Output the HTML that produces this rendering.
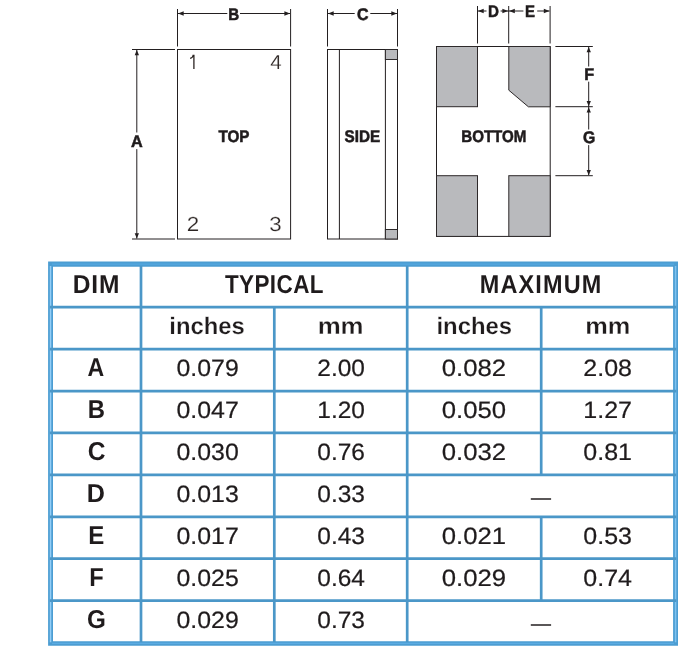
<!DOCTYPE html>
<html>
<head>
<meta charset="utf-8">
<title>Package Dimensions</title>
<style>
  html, body { margin: 0; padding: 0; background: #ffffff; }
  body { width: 694px; height: 654px; overflow: hidden; font-family: "Liberation Sans", sans-serif; }
  svg { display: block; will-change: transform; }
  text { font-family: "Liberation Sans", sans-serif; text-rendering: geometricPrecision; }
  .ln { stroke: #231f20; stroke-width: 1; fill: none; }
  .ah { fill: #231f20; stroke: none; }
  .pad { fill: #b9babd; stroke: #2d292a; stroke-width: 1; }
  .grid { stroke: #4b97c8; stroke-width: 2.7; fill: none; }
</style>
</head>
<body>
<svg width="694" height="654" viewBox="0 0 694 654">
  <rect x="0" y="0" width="694" height="654" fill="#ffffff"/>

  <!-- ================= TOP VIEW ================= -->
  <g id="topview">
    <rect class="ln" x="177.5" y="49.5" width="113.1" height="189.5"/>
    <!-- B dimension -->
    <line class="ln" x1="177.5" y1="9" x2="177.5" y2="46.5"/>
    <line class="ln" x1="290.6" y1="9" x2="290.6" y2="46.5"/>
    <line class="ln" x1="178" y1="13.5" x2="227.3" y2="13.5"/>
    <line class="ln" x1="240" y1="13.5" x2="290" y2="13.5"/>
    <path class="ah" d="M178.0 13.5 L183.7 11.2 L183.7 15.8 Z"/>
    <path class="ah" d="M290.1 13.5 L284.4 11.2 L284.4 15.8 Z"/>
    <!-- A dimension -->
    <line class="ln" x1="132" y1="49.5" x2="175" y2="49.5"/>
    <line class="ln" x1="132" y1="239" x2="175" y2="239"/>
    <line class="ln" x1="136.8" y1="50" x2="136.8" y2="132.5"/>
    <line class="ln" x1="136.8" y1="149.1" x2="136.8" y2="238.5"/>
    <path class="ah" d="M136.8 50.0 L134.7 55.2 L139.0 55.2 Z"/>
    <path class="ah" d="M136.8 238.5 L134.7 233.3 L139.0 233.3 Z"/>
    <!-- pin 1 (drawn: Helvetica-style 1 without foot) -->
    <path d="M193.9 68.9 L193.9 55.5 L193.1 55.5 C192.8 57.3 191.9 58.1 190.1 58.3" fill="none" stroke="#2b2422" stroke-width="1.3"/>
  </g>

  <!-- ================= SIDE VIEW ================= -->
  <g id="sideview">
    <rect class="ln" x="327.5" y="49.5" width="70" height="189.5"/>
    <line class="ln" x1="339.4" y1="49.5" x2="339.4" y2="239"/>
    <line class="ln" x1="385.4" y1="49.5" x2="385.4" y2="239"/>
    <rect class="pad" x="385.4" y="49.5" width="12.1" height="10"/>
    <rect class="pad" x="385.4" y="229.5" width="12.1" height="9.5"/>
    <!-- C dimension -->
    <line class="ln" x1="327.5" y1="9" x2="327.5" y2="46.5"/>
    <line class="ln" x1="397.5" y1="9" x2="397.5" y2="46.5"/>
    <line class="ln" x1="328" y1="13.5" x2="354.7" y2="13.5"/>
    <line class="ln" x1="370.3" y1="13.5" x2="397" y2="13.5"/>
    <path class="ah" d="M328.0 13.5 L333.7 11.2 L333.7 15.8 Z"/>
    <path class="ah" d="M397.0 13.5 L391.3 11.2 L391.3 15.8 Z"/>
  </g>

  <!-- ================= BOTTOM VIEW ================= -->
  <g id="bottomview">
    <rect class="ln" x="436.5" y="46.5" width="113.7" height="189.9" fill="#ffffff"/>
    <rect class="pad" x="436.5" y="46.5" width="41" height="60.2"/>
    <path class="pad" d="M508.8 46.5 L550.2 46.5 L550.2 106.8 L528.4 106.8 L508.8 90.2 Z"/>
    <rect class="pad" x="436.5" y="175.7" width="41" height="60.7"/>
    <rect class="pad" x="508.8" y="175.7" width="41.4" height="60.7"/>
    <!-- D / E dimension -->
    <line class="ln" x1="477.5" y1="6" x2="477.5" y2="43.5"/>
    <line class="ln" x1="508.7" y1="6" x2="508.7" y2="43.5"/>
    <line class="ln" x1="550.1" y1="6" x2="550.1" y2="43.5"/>
    <line class="ln" x1="478" y1="11" x2="486.5" y2="11"/>
    <line class="ln" x1="500.6" y1="11" x2="523.4" y2="11"/>
    <line class="ln" x1="537.2" y1="11" x2="549.5" y2="11"/>
    <path class="ah" d="M478.0 11.0 L483.7 8.7 L483.7 13.3 Z"/>
    <path class="ah" d="M508.1 11.0 L502.4 8.7 L502.4 13.3 Z"/>
    <path class="ah" d="M509.1 11.0 L514.8 8.7 L514.8 13.3 Z"/>
    <path class="ah" d="M549.5 11.0 L543.8 8.7 L543.8 13.3 Z"/>
    <!-- F / G dimension -->
    <line class="ln" x1="555.4" y1="46.5" x2="592.8" y2="46.5"/>
    <line class="ln" x1="555.4" y1="106.7" x2="592.8" y2="106.7"/>
    <line class="ln" x1="555.4" y1="175.7" x2="592.8" y2="175.7"/>
    <line class="ln" x1="588.7" y1="47" x2="588.7" y2="66.5"/>
    <line class="ln" x1="588.7" y1="81.7" x2="588.7" y2="129.5"/>
    <line class="ln" x1="588.7" y1="145.1" x2="588.7" y2="175.2"/>
    <path class="ah" d="M588.7 47.0 L586.6 52.2 L590.9 52.2 Z"/>
    <path class="ah" d="M588.7 106.2 L586.6 101.0 L590.9 101.0 Z"/>
    <path class="ah" d="M588.7 107.2 L586.6 112.4 L590.9 112.4 Z"/>
    <path class="ah" d="M588.7 175.2 L586.6 170.0 L590.9 170.0 Z"/>
  </g>

  <g id="diagramtext">
    <text transform="matrix(0.8973 0 0 1 228.23 19.95)" font-size="16.85" font-weight="bold" fill="#1f1b1c" stroke="#1f1b1c" stroke-width="0.55">B</text>
    <text transform="matrix(0.9496 0 0 1 357.07 20.00)" font-size="16.85" font-weight="bold" fill="#1f1b1c" stroke="#1f1b1c" stroke-width="0.55">C</text>
    <text transform="matrix(0.8973 0 0 1 487.93 17.00)" font-size="16.85" font-weight="bold" fill="#1f1b1c" stroke="#1f1b1c" stroke-width="0.55">D</text>
    <text transform="matrix(0.8880 0 0 1 525.04 17.00)" font-size="16.85" font-weight="bold" fill="#1f1b1c" stroke="#1f1b1c" stroke-width="0.55">E</text>
    <text transform="matrix(0.9611 0 0 1 584.26 79.85)" font-size="16.85" font-weight="bold" fill="#1f1b1c" stroke="#1f1b1c" stroke-width="0.55">F</text>
    <text transform="matrix(0.9366 0 0 1 582.98 143.00)" font-size="16.85" font-weight="bold" fill="#1f1b1c" stroke="#1f1b1c" stroke-width="0.55">G</text>
    <text transform="matrix(0.9625 0 0 1 131.02 146.90)" font-size="16.85" font-weight="bold" fill="#1f1b1c" stroke="#1f1b1c" stroke-width="0.55">A</text>
    <text transform="matrix(0.9044 0 0 1 218.38 142.30)" font-size="16.85" font-weight="bold" fill="#1f1b1c" stroke="#1f1b1c" stroke-width="0.55">TOP</text>
    <text transform="matrix(0.9076 0 0 1 344.54 142.30)" font-size="16.85" font-weight="bold" fill="#1f1b1c" stroke="#1f1b1c" stroke-width="0.55">SIDE</text>
    <text transform="matrix(0.8965 0 0 1 461.23 142.30)" font-size="16.85" font-weight="bold" fill="#1f1b1c" stroke="#1f1b1c" stroke-width="0.55">BOTTOM</text>
    <text transform="matrix(1.1034 0 0 1 186.75 230.60)" font-size="20.30" font-weight="normal" fill="#2b2422" stroke="#ffffff" stroke-width="0.20">2</text>
    <text transform="matrix(1.0984 0 0 1 269.20 230.60)" font-size="20.30" font-weight="normal" fill="#2b2422" stroke="#ffffff" stroke-width="0.20">3</text>
    <text transform="matrix(1.0127 0 0 1 270.28 68.80)" font-size="20.30" font-weight="normal" fill="#2b2422" stroke="#ffffff" stroke-width="0.20">4</text>
  </g>

  <!-- ================= TABLE ================= -->
  <g id="table">
    <!-- outer double border -->
    <path d="M48.1 261.4 H678 V645.8 H48.1 Z M53 266.8 V641.2 H673.1 V266.8 Z" fill="#4c9dd2" fill-rule="evenodd"/>
    <line x1="52" y1="264.2" x2="674" y2="264.2" stroke="#55a9e0" stroke-width="1.2"/>
    <line x1="52" y1="643.3" x2="674" y2="643.3" stroke="#5fb0e6" stroke-width="1"/>
    <line x1="50.55" y1="266" x2="50.55" y2="642.2" stroke="#93cef7" stroke-width="1.5"/>
    <line x1="675.6" y1="266" x2="675.6" y2="642.2" stroke="#7fc2f0" stroke-width="1.5"/>
    <!-- horizontal rules -->
    <line class="grid" x1="49.8" y1="307.20" x2="676.3" y2="307.20"/>
    <line class="grid" x1="49.8" y1="349.12" x2="676.3" y2="349.12"/>
    <line class="grid" x1="49.8" y1="391.04" x2="676.3" y2="391.04"/>
    <line class="grid" x1="49.8" y1="432.96" x2="676.3" y2="432.96"/>
    <line class="grid" x1="49.8" y1="474.88" x2="676.3" y2="474.88"/>
    <line class="grid" x1="49.8" y1="516.80" x2="676.3" y2="516.80"/>
    <line class="grid" x1="49.8" y1="558.72" x2="676.3" y2="558.72"/>
    <line class="grid" x1="49.8" y1="600.64" x2="676.3" y2="600.64"/>
    <!-- vertical rules -->
    <line class="grid" x1="141" y1="266" x2="141" y2="642"/>
    <line class="grid" x1="407.2" y1="266" x2="407.2" y2="642"/>
    <line class="grid" x1="274.3" y1="307" x2="274.3" y2="642"/>
    <line class="grid" x1="541.2" y1="307" x2="541.2" y2="475"/>
    <line class="grid" x1="541.2" y1="517" x2="541.2" y2="601"/>
    <!-- dashes in merged cells -->
    <line x1="530.8" y1="499" x2="551.1" y2="499" stroke="#231f20" stroke-width="1.5"/>
    <line x1="530.8" y1="625" x2="551.1" y2="625" stroke="#231f20" stroke-width="1.5"/>
  </g>
  <g id="tabletext">
    <text transform="matrix(0.9476 0 0 1 72.87 292.75)" font-size="25.90" font-weight="bold" fill="#1f1b1c" letter-spacing="0.80">DIM</text>
    <text transform="matrix(0.8672 0 0 1 224.90 292.75)" font-size="25.90" font-weight="bold" fill="#1f1b1c" letter-spacing="0.50">TYPICAL</text>
    <text transform="matrix(0.9053 0 0 1 479.73 292.75)" font-size="25.90" font-weight="bold" fill="#1f1b1c" letter-spacing="1.30">MAXIMUM</text>
    <text transform="matrix(1.0014 0 0 1 169.29 333.75)" font-size="23.80" font-weight="bold" fill="#1f1b1c" stroke="#ffffff" stroke-width="0.25">inches</text>
    <text transform="matrix(1.0867 0 0 1 317.63 333.75)" font-size="23.80" font-weight="bold" fill="#1f1b1c" stroke="#ffffff" stroke-width="0.30">mm</text>
    <text transform="matrix(1.0028 0 0 1 436.48 333.75)" font-size="23.80" font-weight="bold" fill="#1f1b1c" stroke="#ffffff" stroke-width="0.25">inches</text>
    <text transform="matrix(1.0664 0 0 1 585.26 333.75)" font-size="23.80" font-weight="bold" fill="#1f1b1c" stroke="#ffffff" stroke-width="0.30">mm</text>
    <text transform="matrix(0.8929 0 0 1 87.54 375.80)" font-size="25.90" font-weight="bold" fill="#1f1b1c">A</text>
    <text transform="matrix(0.9205 0 0 1 87.71 417.80)" font-size="25.90" font-weight="bold" fill="#1f1b1c">B</text>
    <text transform="matrix(0.9482 0 0 1 87.63 459.80)" font-size="25.90" font-weight="bold" fill="#1f1b1c">C</text>
    <text transform="matrix(0.9699 0 0 1 86.83 501.80)" font-size="25.90" font-weight="bold" fill="#1f1b1c">D</text>
    <text transform="matrix(0.9283 0 0 1 88.30 543.80)" font-size="25.90" font-weight="bold" fill="#1f1b1c">E</text>
    <text transform="matrix(0.9135 0 0 1 89.32 585.80)" font-size="25.90" font-weight="bold" fill="#1f1b1c">F</text>
    <text transform="matrix(0.9379 0 0 1 87.04 627.80)" font-size="25.90" font-weight="bold" fill="#1f1b1c">G</text>
    <text transform="matrix(1.0502 0 0 1 176.52 376.00)" font-size="23.70" fill="#1f1b1c" stroke="#1f1b1c" stroke-width="0.22">0.079</text>
    <text transform="matrix(1.0332 0 0 1 317.33 376.00)" font-size="23.70" fill="#1f1b1c" stroke="#1f1b1c" stroke-width="0.22">2.00</text>
    <text transform="matrix(1.0849 0 0 1 441.80 376.00)" font-size="23.70" fill="#1f1b1c" stroke="#1f1b1c" stroke-width="0.22">0.082</text>
    <text transform="matrix(1.0557 0 0 1 583.32 376.00)" font-size="23.70" fill="#1f1b1c" stroke="#1f1b1c" stroke-width="0.22">2.08</text>
    <text transform="matrix(1.0502 0 0 1 176.52 418.00)" font-size="23.70" fill="#1f1b1c" stroke="#1f1b1c" stroke-width="0.22">0.047</text>
    <text transform="matrix(1.0332 0 0 1 317.33 418.00)" font-size="23.70" fill="#1f1b1c" stroke="#1f1b1c" stroke-width="0.22">1.20</text>
    <text transform="matrix(1.0849 0 0 1 441.80 418.00)" font-size="23.70" fill="#1f1b1c" stroke="#1f1b1c" stroke-width="0.22">0.050</text>
    <text transform="matrix(1.0557 0 0 1 583.32 418.00)" font-size="23.70" fill="#1f1b1c" stroke="#1f1b1c" stroke-width="0.22">1.27</text>
    <text transform="matrix(1.0502 0 0 1 176.52 460.00)" font-size="23.70" fill="#1f1b1c" stroke="#1f1b1c" stroke-width="0.22">0.030</text>
    <text transform="matrix(1.0332 0 0 1 317.33 460.00)" font-size="23.70" fill="#1f1b1c" stroke="#1f1b1c" stroke-width="0.22">0.76</text>
    <text transform="matrix(1.0849 0 0 1 441.80 460.00)" font-size="23.70" fill="#1f1b1c" stroke="#1f1b1c" stroke-width="0.22">0.032</text>
    <text transform="matrix(1.0557 0 0 1 583.32 460.00)" font-size="23.70" fill="#1f1b1c" stroke="#1f1b1c" stroke-width="0.22">0.81</text>
    <text transform="matrix(1.0502 0 0 1 176.52 502.00)" font-size="23.70" fill="#1f1b1c" stroke="#1f1b1c" stroke-width="0.22">0.013</text>
    <text transform="matrix(1.0332 0 0 1 317.33 502.00)" font-size="23.70" fill="#1f1b1c" stroke="#1f1b1c" stroke-width="0.22">0.33</text>
    <text transform="matrix(1.0502 0 0 1 176.52 544.00)" font-size="23.70" fill="#1f1b1c" stroke="#1f1b1c" stroke-width="0.22">0.017</text>
    <text transform="matrix(1.0332 0 0 1 317.33 544.00)" font-size="23.70" fill="#1f1b1c" stroke="#1f1b1c" stroke-width="0.22">0.43</text>
    <text transform="matrix(1.0849 0 0 1 441.80 544.00)" font-size="23.70" fill="#1f1b1c" stroke="#1f1b1c" stroke-width="0.22">0.021</text>
    <text transform="matrix(1.0557 0 0 1 583.32 544.00)" font-size="23.70" fill="#1f1b1c" stroke="#1f1b1c" stroke-width="0.22">0.53</text>
    <text transform="matrix(1.0502 0 0 1 176.52 586.00)" font-size="23.70" fill="#1f1b1c" stroke="#1f1b1c" stroke-width="0.22">0.025</text>
    <text transform="matrix(1.0332 0 0 1 317.33 586.00)" font-size="23.70" fill="#1f1b1c" stroke="#1f1b1c" stroke-width="0.22">0.64</text>
    <text transform="matrix(1.0849 0 0 1 441.80 586.00)" font-size="23.70" fill="#1f1b1c" stroke="#1f1b1c" stroke-width="0.22">0.029</text>
    <text transform="matrix(1.0557 0 0 1 583.32 586.00)" font-size="23.70" fill="#1f1b1c" stroke="#1f1b1c" stroke-width="0.22">0.74</text>
    <text transform="matrix(1.0502 0 0 1 176.52 628.00)" font-size="23.70" fill="#1f1b1c" stroke="#1f1b1c" stroke-width="0.22">0.029</text>
    <text transform="matrix(1.0332 0 0 1 317.33 628.00)" font-size="23.70" fill="#1f1b1c" stroke="#1f1b1c" stroke-width="0.22">0.73</text>
  </g>
</svg>
</body>
</html>
